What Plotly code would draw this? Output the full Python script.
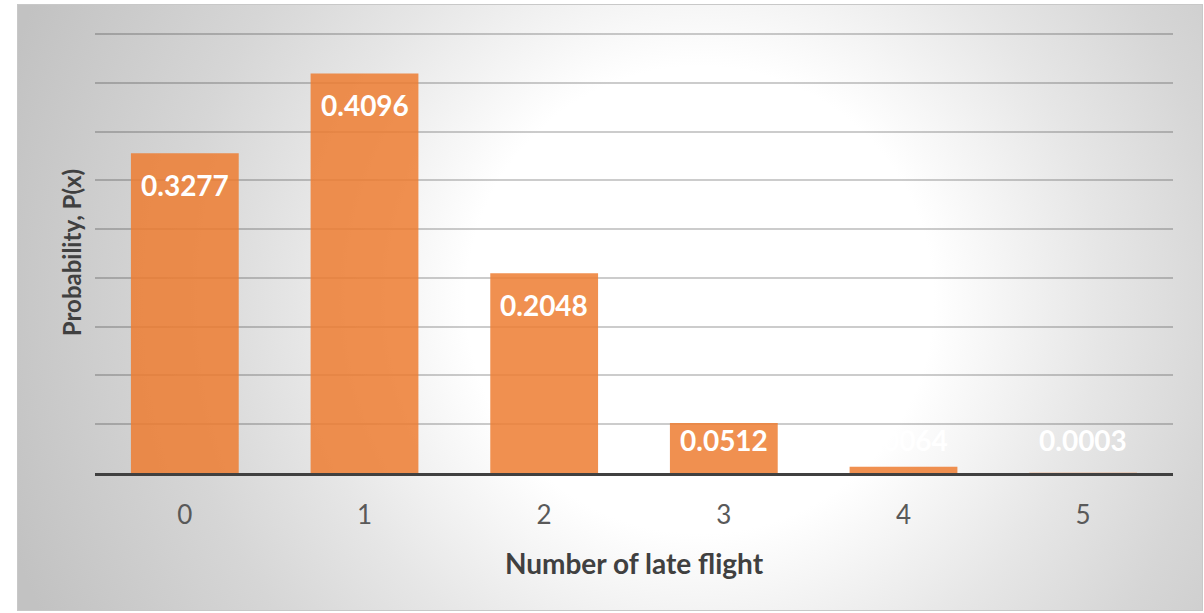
import base64
import plotly.graph_objects as go

# ---- data ----
categories = ["0", "1", "2", "3", "4", "5"]
probabilities = [0.3277, 0.4096, 0.2048, 0.0512, 0.0064, 0.0003]
label_texts = ["0.3277", "0.4096", "0.2048", "0.0512", "0.0064", "0.0003"]
x_title = "Number of late flight"
y_title = "Probability, P(x)"
y_max = 0.45
y_step = 0.05

W, H = 1204, 613
L, R, T, B = 95, 31, 32, 140
pw, ph = W - L - R, H - T - B

# radial gradient background as an SVG image
bx0, by0, bx1, by1 = 17, 4, 1203, 611
bw, bh = bx1 - bx0, by1 - by0
svg = f'''<svg xmlns="http://www.w3.org/2000/svg" width="{bw}" height="{bh}" viewBox="0 0 {bw} {bh}" preserveAspectRatio="none">
<defs><radialGradient id="g" gradientUnits="userSpaceOnUse" cx="{700-bx0}" cy="{300-by0}" r="730">
<stop offset="0" stop-color="#ffffff"/>
<stop offset="0.32" stop-color="#ffffff"/>
<stop offset="0.55" stop-color="#e6e6e6"/>
<stop offset="0.72" stop-color="#d6d6d6"/>
<stop offset="1" stop-color="#c2c2c2"/>
</radialGradient></defs>
<rect x="0" y="0" width="{bw}" height="{bh}" fill="url(#g)" stroke="#c8c8c8" stroke-width="2"/>
</svg>'''
src = "data:image/svg+xml;base64," + base64.b64encode(svg.encode()).decode()

fig = go.Figure()
fig.add_trace(go.Bar(
    x=categories, y=probabilities,
    marker=dict(color="rgba(237,125,49,0.85)", line=dict(width=0)),
    hoverinfo="skip",
))

label_font = dict(family="Lato", size=28, color="white", weight="bold")
annotations = []
for c, v, t in zip(categories, probabilities, label_texts):
    if v >= 0.07:
        annotations.append(dict(x=c, y=v, text=t, showarrow=False, yanchor="top",
                                yshift=-13, font=label_font))
    else:
        annotations.append(dict(x=c, y=0, text=t, showarrow=False, yanchor="bottom",
                                yshift=14, font=label_font))

fig.update_layout(
    width=W, height=H,
    margin=dict(l=L, r=R, t=T, b=B, pad=0),
    paper_bgcolor="white", plot_bgcolor="rgba(0,0,0,0)",
    bargap=0.4, showlegend=False,
    font=dict(family="Lato"),
    annotations=annotations,
    images=[dict(source=src, xref="paper", yref="paper",
                 x=(bx0 - L) / pw, y=(H - B - by0) / ph,
                 sizex=bw / pw, sizey=bh / ph,
                 xanchor="left", yanchor="top", sizing="stretch", layer="below")],
    xaxis=dict(
        showgrid=False, showline=True, linecolor="#404040", linewidth=3,
        ticks="", tickfont=dict(family="Lato", size=26, color="#595959"),
        ticklabelstandoff=17,
        title=dict(text=x_title, font=dict(family="Lato", size=28, color="#404040", weight="bold"),
                   standoff=26),
    ),
    yaxis=dict(
        range=[0, y_max * (ph / (ph - 2))], dtick=y_step, showticklabels=False, zeroline=False,
        showgrid=True, gridcolor="rgba(0,0,0,0.2)", gridwidth=1.5,
        title=dict(text=y_title, font=dict(family="Lato", size=24, color="#404040", weight="bold"),
                   standoff=5),
    ),
)

fig.write_html("out.html")
